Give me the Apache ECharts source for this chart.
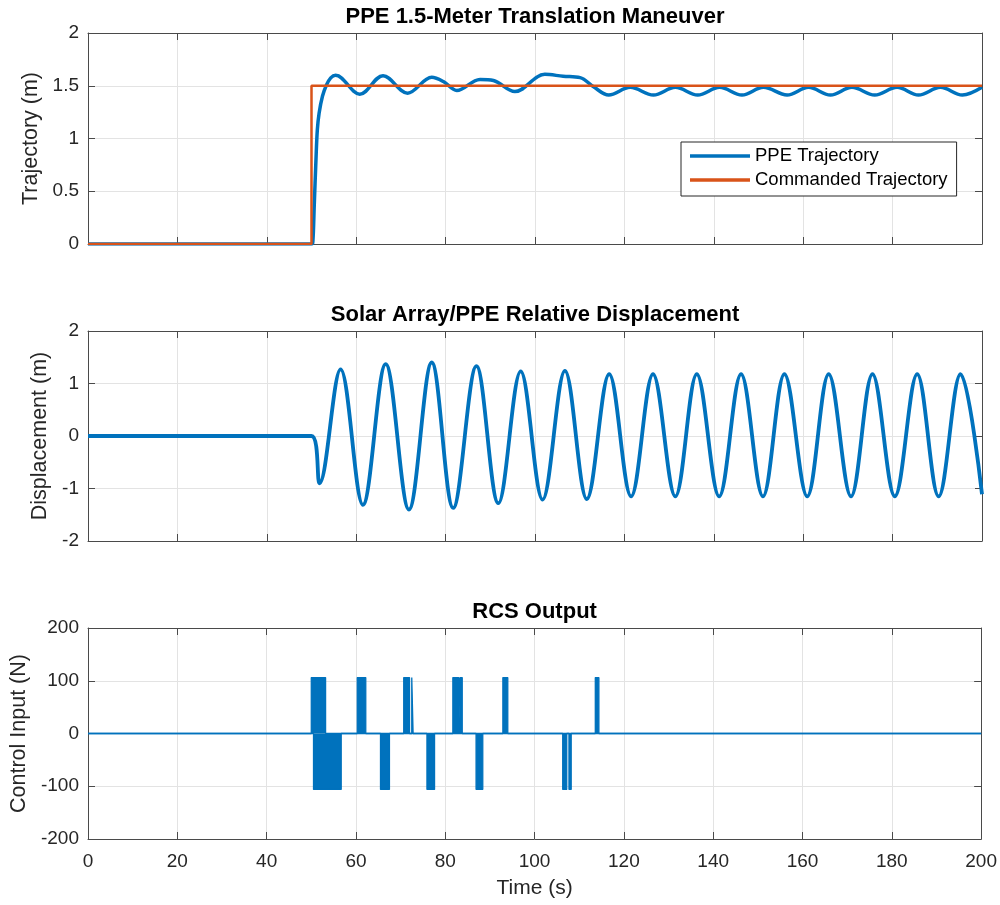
<!DOCTYPE html>
<html>
<head>
<meta charset="utf-8">
<script src="https://cdn.jsdelivr.net/npm/echarts@6/dist/echarts.min.js"></script>
<style>
  html, body { margin: 0; padding: 0; background: #ffffff; }
  #chart { width: 1000px; height: 905px; }
</style>
</head>
<body>
<div id="chart"></div>
<script>
// ---- data -------------------------------------------------------------
// time axis (s) shared by all three panels: [min, max, step]
const timeRange = [0, 200, 20];

// panel 1: PPE position vs commanded step (m)
const trajectoryRange = [0, 2, 0.5];
const commandedTrajectory = [[0, 0], [50, 0], [50, 1.5], [200, 1.5]];
const ppeTrajectory = [
  [0, 0], [50, 0], [50.3, 0.02], [50.6, 0.35], [51.0, 0.80], [51.3, 1.08],
  [51.7, 1.24], [52.45, 1.40], [53.35, 1.507], [54.3, 1.575], [55.4, 1.60],
  [60.8, 1.42], [66.0, 1.595], [71.5, 1.43], [76.9, 1.58], [79.5, 1.54],
  [82.5, 1.455], [87.7, 1.56], [90.7, 1.55], [95.5, 1.445], [102.2, 1.608],
  [106.3, 1.59], [110.1, 1.577], [113.1, 1.49], [116.5, 1.412],
  [121.3, 1.485], [126.5, 1.412], [131.4, 1.485], [136.4, 1.412],
  [141.3, 1.485], [146.3, 1.412], [151.1, 1.485], [156.4, 1.412],
  [161.2, 1.485], [166.1, 1.412], [170.9, 1.485], [176.0, 1.412],
  [181.0, 1.485], [185.8, 1.412], [190.7, 1.485], [195.6, 1.412],
  [200, 1.485]
];

// panel 2: solar array displacement relative to PPE (m)
const displacementRange = [-2, 2, 1];
const relativeDisplacement = [
  [0, 0], [50, 0], [51.8, -0.90], [56.5, 1.27], [61.5, -1.31], [66.6, 1.37],
  [71.8, -1.40], [76.9, 1.40], [81.7, -1.37], [86.9, 1.33], [91.8, -1.28],
  [96.8, 1.23], [101.7, -1.21], [106.7, 1.24], [111.6, -1.20], [116.6, 1.18],
  [121.5, -1.15], [126.4, 1.18], [131.4, -1.15], [136.2, 1.18],
  [141.2, -1.15], [146.1, 1.18], [151.0, -1.15], [155.8, 1.18],
  [160.9, -1.15], [165.7, 1.18], [170.7, -1.15], [175.5, 1.18],
  [180.5, -1.15], [185.5, 1.18], [190.3, -1.15], [195.2, 1.18],
  [200, -1.11]
];

// panel 3: RCS thruster firings, [start, end] in s at +/- thrustLevel (N)
const controlRange = [-200, 200, 100];
const thrustLevel = 106;
const positiveFirings = [
  [50.0, 53.2], [60.3, 62.2], [70.7, 72.0], [72.5, 72.8],
  [81.7, 83.0], [83.3, 83.8], [92.9, 94.0], [113.6, 114.4]
];
const negativeFirings = [
  [50.5, 56.7], [65.5, 67.5], [75.9, 77.6], [86.9, 88.4],
  [106.3, 107.2], [107.7, 108.2]
];

// ---- helpers ----------------------------------------------------------
const BLUE = '#0072BD';
const ORANGE = '#D95319';
const AXIS_COLOR = '#4a4a4a';
const GRID_COLOR = '#e3e3e3';
const TEXT_COLOR = '#262626';
const FONT = '"Liberation Sans", Arial, Helvetica, sans-serif';

function firingTrace(firings, level) {
  const pts = [[timeRange[0], 0]];
  firings.forEach(([s, e]) => {
    pts.push([s, 0], [s, level], [e, level], [e, 0]);
  });
  pts.push([timeRange[1], 0]);
  return pts;
}

const lineStyle = { color: AXIS_COLOR, width: 1 };

function bottomX(grid, withLabels, name) {
  return {
    type: 'value', gridIndex: grid,
    min: timeRange[0], max: timeRange[1], interval: timeRange[2],
    axisLine: { show: true, onZero: false, lineStyle },
    axisTick: { show: true, inside: true, length: 7, lineStyle },
    axisLabel: { show: withLabels, color: TEXT_COLOR, fontSize: 19, fontFamily: FONT, margin: 13 },
    splitLine: { show: true, lineStyle: { color: GRID_COLOR, width: 1 } },
    name: name || '', nameLocation: 'middle', nameGap: 39,
    nameTextStyle: { color: TEXT_COLOR, fontSize: 21, fontFamily: FONT }
  };
}
function topX(grid, title) {
  return {
    type: 'value', gridIndex: grid, position: 'top',
    min: timeRange[0], max: timeRange[1], interval: timeRange[2],
    axisLine: { show: true, onZero: false, lineStyle },
    axisTick: { show: true, inside: true, length: 7, lineStyle },
    axisLabel: { show: false }, splitLine: { show: false },
    name: title, nameLocation: 'middle', nameGap: 5,
    nameTextStyle: { color: '#000', fontSize: 22, fontWeight: 'bold', fontFamily: FONT }
  };
}
function leftY(grid, range, name, gap) {
  return {
    type: 'value', gridIndex: grid,
    min: range[0], max: range[1], interval: range[2],
    axisLine: { show: true, onZero: false, lineStyle },
    axisTick: { show: true, inside: true, length: 7, lineStyle },
    axisLabel: { color: TEXT_COLOR, fontSize: 19, fontFamily: FONT, margin: 9 },
    splitLine: { show: true, lineStyle: { color: GRID_COLOR, width: 1 } },
    name: name, nameLocation: 'middle', nameGap: gap,
    nameTextStyle: { color: TEXT_COLOR, fontSize: 21.5, fontFamily: FONT }
  };
}
function rightY(grid, range) {
  return {
    type: 'value', gridIndex: grid, position: 'right',
    min: range[0], max: range[1], interval: range[2],
    axisLine: { show: true, onZero: false, lineStyle },
    axisTick: { show: true, inside: true, length: 7, lineStyle },
    axisLabel: { show: false }, splitLine: { show: false }
  };
}

const chart = echarts.init(document.getElementById('chart'), null, { renderer: 'canvas' });

chart.setOption({
  backgroundColor: '#ffffff',
  animation: false,
  grid: [
    { left: 88, right: 18, top: 33, height: 211 },
    { left: 88, right: 18, top: 331, height: 210 },
    { left: 88, right: 18, top: 628, height: 211 }
  ],
  xAxis: [
    bottomX(0, false), bottomX(1, false), bottomX(2, true, 'Time (s)'),
    topX(0, 'PPE 1.5-Meter Translation Maneuver'),
    topX(1, 'Solar Array/PPE Relative Displacement'),
    topX(2, 'RCS Output')
  ],
  yAxis: [
    leftY(0, trajectoryRange, 'Trajectory (m)', 43),
    leftY(1, displacementRange, 'Displacement (m)', 34),
    leftY(2, controlRange, 'Control Input (N)', 56),
    rightY(0, trajectoryRange), rightY(1, displacementRange), rightY(2, controlRange)
  ],
  legend: {
    data: ['PPE Trajectory', 'Commanded Trajectory'],
    orient: 'vertical',
    left: 681, top: 142,
    padding: [4, 9, 6, 9],
    itemGap: 4,
    itemWidth: 60, itemHeight: 3.5,
    icon: 'rect',
    backgroundColor: '#ffffff',
    borderColor: '#262626', borderWidth: 1,
    textStyle: { color: '#000', fontSize: 18.5, fontFamily: FONT, lineHeight: 20 }
  },
  series: [
    {
      name: 'PPE Trajectory', type: 'line', xAxisIndex: 0, yAxisIndex: 0,
      data: ppeTrajectory, showSymbol: false, symbol: 'none', smooth: 0.36,
      lineStyle: { color: BLUE, width: 3.5 }, itemStyle: { color: BLUE }, z: 2
    },
    {
      name: 'Commanded Trajectory', type: 'line', xAxisIndex: 0, yAxisIndex: 0,
      data: commandedTrajectory, showSymbol: false, symbol: 'none',
      lineStyle: { color: ORANGE, width: 2.5 }, itemStyle: { color: ORANGE }, z: 3
    },
    {
      name: 'Relative Displacement', type: 'line', xAxisIndex: 1, yAxisIndex: 1,
      data: relativeDisplacement, showSymbol: false, symbol: 'none', smooth: 0.36,
      lineStyle: { color: BLUE, width: 3.8 }, itemStyle: { color: BLUE }
    },
    {
      name: 'RCS +', type: 'line', xAxisIndex: 2, yAxisIndex: 2,
      data: firingTrace(positiveFirings, thrustLevel), showSymbol: false, symbol: 'none',
      lineStyle: { color: BLUE, width: 1.3 }, areaStyle: { color: BLUE, opacity: 1 },
      itemStyle: { color: BLUE }
    },
    {
      name: 'RCS -', type: 'line', xAxisIndex: 2, yAxisIndex: 2,
      data: firingTrace(negativeFirings, -thrustLevel), showSymbol: false, symbol: 'none',
      lineStyle: { color: BLUE, width: 1.3 }, areaStyle: { color: BLUE, opacity: 1 },
      itemStyle: { color: BLUE }
    }
  ]
});
</script>
</body>
</html>
